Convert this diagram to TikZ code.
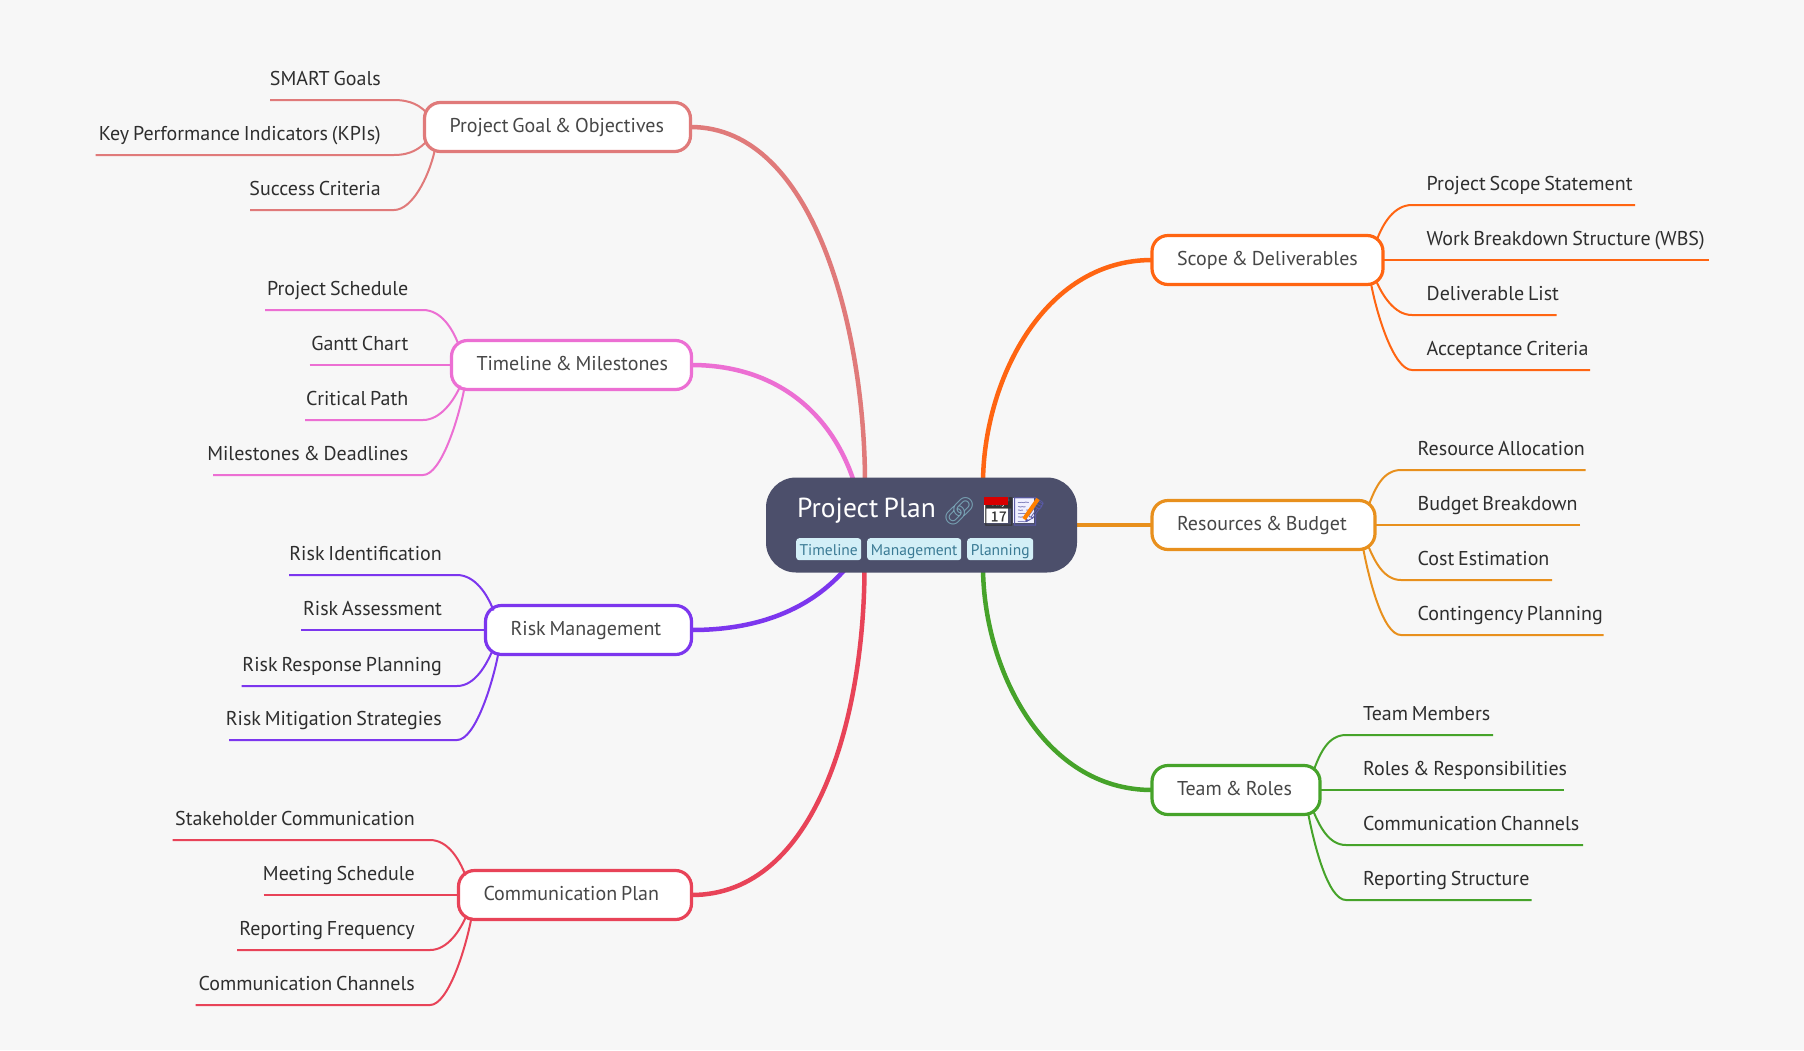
\documentclass[tikz,border=0pt]{standalone}
\usepackage{fontspec}
\usepackage{xcolor}
\usetikzlibrary{backgrounds}
\setmainfont[WordSpace=0.72]{PT Sans}
\newfontfamily\emojifont{Noto Emoji}
\definecolor{bgc}{HTML}{F7F7F7}
\definecolor{rootc}{HTML}{4C4F6B}
\definecolor{tagc}{HTML}{D3EFF7}
\definecolor{tagtextc}{HTML}{3A7A94}
\definecolor{goalc}{HTML}{E07A7A}
\definecolor{timelinec}{HTML}{EC6FD3}
\definecolor{riskc}{HTML}{7C36EE}
\definecolor{commc}{HTML}{E84358}
\definecolor{scopec}{HTML}{FF6512}
\definecolor{resourcesc}{HTML}{E8901D}
\definecolor{teamc}{HTML}{46A32A}
\tikzset{
  branch/.style={draw=#1, line width=3.2pt, fill=white, rounded corners=16pt, outer sep=0pt,
    anchor=north west, minimum height=49pt, inner xsep=25pt,
    text height=14pt, text depth=4pt, text=black!72, font=\fontsize{20}{24}\selectfont},
  mainline/.style={draw=#1, line width=4.5pt},
  leafline/.style={draw=#1, line width=2pt},
  leaftext/.style={text=black!82, inner sep=0pt, font=\fontsize{20}{24}\selectfont},
  tagbox/.style={fill=tagc, rounded corners=3pt, text=tagtextc, anchor=north west, inner sep=0pt,
    minimum height=22pt, text height=14pt, text depth=1pt, font=\fontsize{15.5}{18}\selectfont}
}

\begin{document}
\begin{tikzpicture}[x=1pt,y=-1pt]
\useasboundingbox (0,0) rectangle (1804,1050);

% Branch boxes
\node[branch=goalc] (goal) at (424.5,102.5) {\makebox[216pt][l]{Project Goal \& Objectives}};
\node[branch=timelinec] (timeline) at (451.5,340.5) {\makebox[190pt][l]{Timeline \& Milestones}};
\node[branch=riskc] (risk) at (485.5,605.5) {\makebox[156pt][l]{Risk Management}};
\node[branch=commc] (comm) at (458.5,870.5) {\makebox[183pt][l]{Communication Plan}};
\node[branch=scopec] (scope) at (1152,235.5) {\makebox[181pt][l]{Scope \& Deliverables}};
\node[branch=resourcesc] (resources) at (1152,500.5) {\makebox[173pt][l]{Resources \& Budget}};
\node[branch=teamc] (team) at (1152,765.5) {\makebox[118pt][l]{Team \& Roles}};

% Root node
\node[fill=rootc, rounded corners=30pt, minimum width=311pt, minimum height=95pt, outer sep=0pt] (root) at (921.5,525) {};

% Main connectors
\begin{pgfonlayer}{background}
\fill[bgc] (0,0) rectangle (1804,1050);
\draw[mainline=goalc] (goal.east) .. controls +(125,0) and +(0,-150) .. ([xshift=-56.5pt,yshift=-6pt]root.north);
\draw[mainline=timelinec] (timeline.east) .. controls +(85,0) and +(-22,-70) .. ([xshift=-67pt,yshift=-6pt]root.north);
\draw[mainline=riskc] (risk.east) .. controls +(90,0) and +(-22,26) .. ([xshift=-74pt,yshift=6pt]root.south);
\draw[mainline=commc] (comm.east) .. controls +(125,0) and +(0,150) .. ([xshift=-57pt,yshift=6pt]root.south);
\draw[mainline=scopec] (scope.west) .. controls +(-110,0) and +(0,-100) .. ([xshift=61.5pt,yshift=-6pt]root.north);
\draw[mainline=resourcesc] (resources.west) -- (root.east);
\draw[mainline=teamc] (team.west) .. controls +(-110,0) and +(0,100) .. ([xshift=61.5pt,yshift=6pt]root.south);
\end{pgfonlayer}

% Leaves on the left with a curve into the box
\foreach \br/\txt/\ly/\lx/\kx/\tx/\dx/\dy/\cy [count=\i] in {
  goal/SMART Goals/100/270/394/381/2/10/-6,
  goal/Key Performance Indicators (KPIs)/155/95.5/394/381/2/39/6,
  goal/Success Criteria/210/250/394/381/10/49/26,
  timeline/Project Schedule/310/265/423/408.5/7/4/-16,
  timeline/Critical Path/420/305/423/408.5/9/45/14,
  timeline/Milestones \& Deadlines/475/213/423/408.5/13/47/32,
  risk/Risk Identification/575/289/457/442/8/5/-16,
  risk/Risk Response Planning/686/241.6/457/442/7/45/14,
  risk/Risk Mitigation Strategies/740/229/457/442/13/47/32,
  comm/Stakeholder Communication/840/172.6/430/415/7/5/-16,
  comm/Reporting Frequency/950/237/430/415/8/45/14,
  comm/Communication Channels/1005/195.6/430/415/13/47/32} {
    \coordinate (end\i) at (\lx,\ly);
    \coordinate (knee\i) at (\kx,\ly);
    \node[leaftext, anchor=base east] (leaf\i) at (\tx,\ly-15) {\txt};
    \draw[leafline=\br c] (end\i) -- (knee\i) .. controls +(18,0) and +(-6,\cy) .. ([shift={(\dx,\dy)}]\br.north west);
}

% Leaves on the right with a curve into the box
\foreach \br/\txt/\ly/\rx/\kx/\tx/\dx/\dy/\cy [count=\i] in {
  scope/Project Scope Statement/205/1635/1412/1426.5/-6/4/-16,
  scope/Deliverable List/315/1556.6/1412/1426.5/-7/45/14,
  scope/Acceptance Criteria/370/1590/1412/1426.5/-12/48/32,
  resources/Resource Allocation/470/1585.6/1401/1417.5/-6/4/-16,
  resources/Cost Estimation/580/1552/1401/1417.5/-7/45/14,
  resources/Contingency Planning/635/1603.6/1401/1417.5/-12/47/32,
  team/Team Members/735/1493/1346/1363/-6/4/-16,
  team/Communication Channels/845/1583/1346/1363/-7/45/14,
  team/Reporting Structure/900/1531.6/1346/1363/-12/47/32} {
    \coordinate (rend\i) at (\rx,\ly);
    \coordinate (rknee\i) at (\kx,\ly);
    \node[leaftext, anchor=base west] (rleaf\i) at (\tx,\ly-15) {\txt};
    \draw[leafline=\br c] (rend\i) -- (rknee\i) .. controls +(-18,0) and +(6,\cy) .. ([shift={(\dx,\dy)}]\br.north east);
}

% Leaves that run straight into the box
\foreach \br/\txt/\ly/\lx/\tx [count=\i] in {
  timeline/Gantt Chart/365/309.5/408.5,
  risk/Risk Assessment/630/301/442,
  comm/Meeting Schedule/895/263.5/415} {
    \coordinate (send\i) at (\lx,\ly);
    \node[leaftext, anchor=base east] (sleaf\i) at (\tx,\ly-15) {\txt};
    \draw[leafline=\br c] (send\i) -- (\br.west);
}
\foreach \br/\txt/\ly/\rx/\tx [count=\i] in {
  scope/Work Breakdown Structure (WBS)/260/1708.5/1426.5,
  resources/Budget Breakdown/525/1580/1417.5,
  team/Roles \& Responsibilities/790/1563.6/1363} {
    \coordinate (tend\i) at (\rx,\ly);
    \node[leaftext, anchor=base west] (tleaf\i) at (\tx,\ly-15) {\txt};
    \draw[leafline=\br c] (tend\i) -- (\br.east);
}

% Root title and emoji
\node[anchor=base west, inner sep=0pt, text=white, font=\fontsize{27.5}{30}\selectfont] (title) at (797,517) {Project Plan};
\node[anchor=base west, inner sep=0pt, text=cyan!35!gray, font=\emojifont\fontsize{27}{30}\selectfont] (link) at (942,520) {🔗};
\fill[white] (984,498) rectangle (1008,523);
\node[anchor=base west, inner sep=0pt, text=black!80, font=\emojifont\fontsize{28}{30}\selectfont] (calendar) at (981,521) {📅};
\fill[red!85!black] (984,497) rectangle (1008,505);
\fill[blue!6] (1013,498) rectangle (1034,523);
\node[anchor=base west, inner sep=0pt, text=blue!30!gray, font=\emojifont\fontsize{28}{30}\selectfont] (memo) at (1011,521) {📝};
\draw[orange, line width=4pt] (1038,499) -- (1024,519);

% Tags
\node[tagbox, minimum width=65pt] (tagtime) at (796,538) {Timeline};
\node[tagbox, minimum width=94pt] (tagman) at (867,538) {Management};
\node[tagbox, minimum width=66pt] (tagplan) at (967,538) {Planning};

\end{tikzpicture}
\end{document}
